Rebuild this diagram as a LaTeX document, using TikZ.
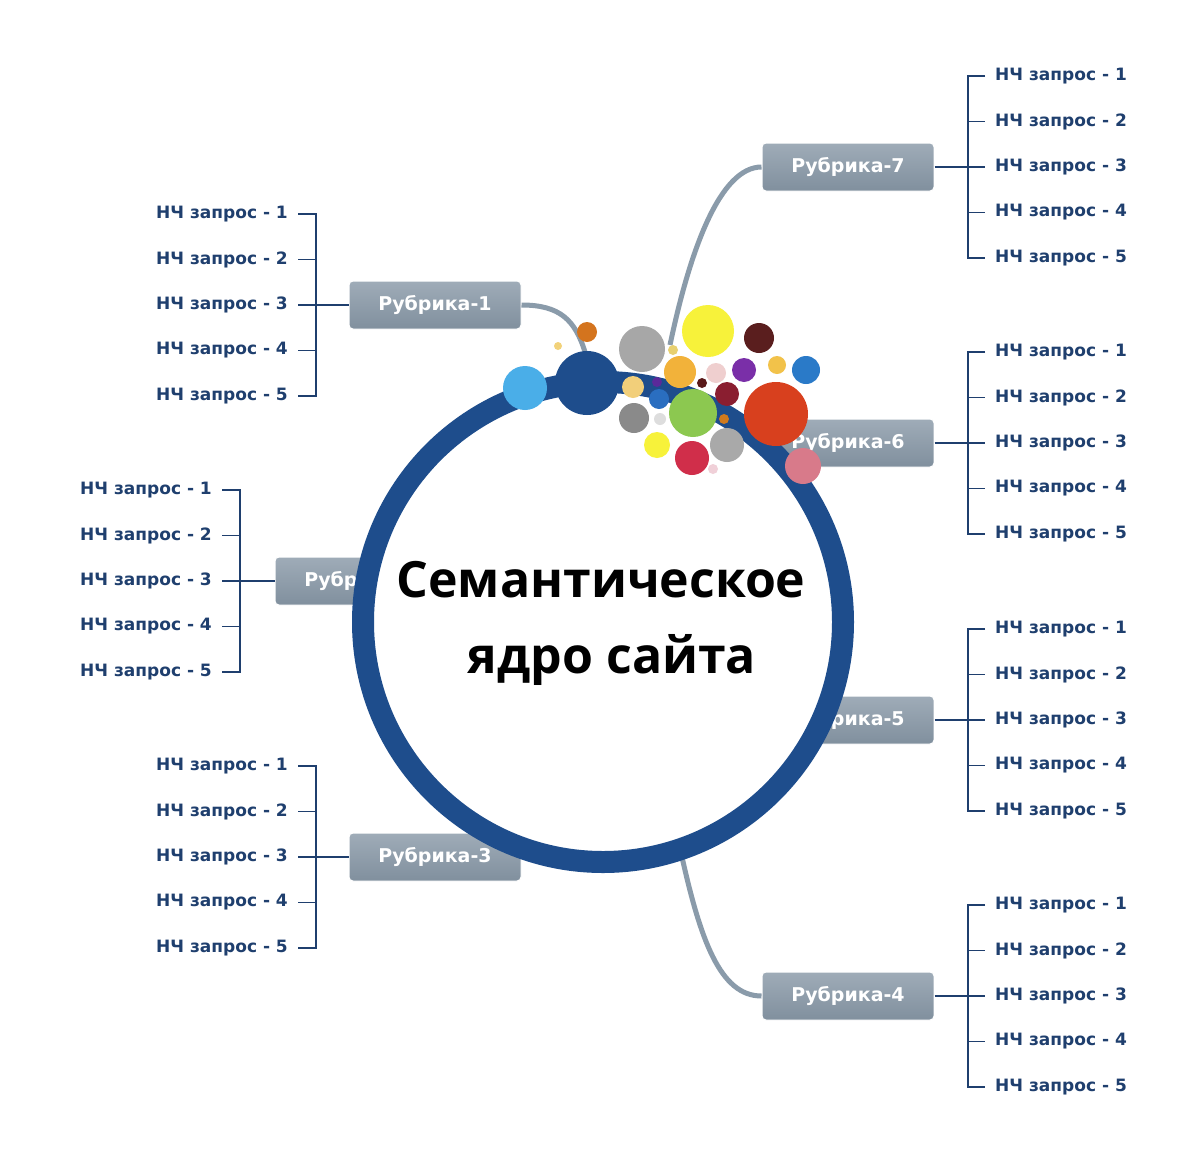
\documentclass[tikz,border=0pt]{standalone}
\usepackage{fontspec}
\setmainfont{Open Sans}
\newfontfamily\djvfont{DejaVu Sans}
\definecolor{leaf}{HTML}{1F3F6E}
\definecolor{ring}{HTML}{1E4D8C}
\definecolor{boxc}{HTML}{8797A6}
\definecolor{conn}{HTML}{8A9BAA}
\begin{document}
\begin{tikzpicture}[x=1pt,y=-1pt,
  rub/.style={rounded corners=4pt,draw=white,line width=1pt,top color=boxc!80!white,bottom color=boxc!95!black,text=white,font=\djvfont\bfseries\fontsize{19}{19}\selectfont,minimum width=172pt,minimum height=48pt,inner sep=0pt},
  lf/.style={text=leaf,font=\djvfont\bfseries\fontsize{17}{17}\selectfont,inner sep=0pt},
  br/.style={draw=leaf,line width=1.8pt},
  cn/.style={draw=conn,line width=5pt}]
\useasboundingbox (0,0) rectangle (1200,1154);
\fill[white] (0,0) rectangle (1200,1154);
\coordinate (c1) at (585,352);
\coordinate (c7) at (670,345);
\coordinate (c4) at (680,848);
\coordinate (c3) at (548,852);
\node[rub] (r1) at (435,305) {Рубрика-1};
\node[rub] (r7) at (848,167) {Рубрика-7};
\node[rub] (r6) at (848,443) {Рубрика-6};
\node[rub] (r5) at (848,720) {Рубрика-5};
\node[rub] (r4) at (848,996) {Рубрика-4};
\node[rub] (r3) at (435,857) {Рубрика-3};
\node[rub] (r2) at (361,581) {Рубрика-2};
\draw[cn] (r1.east) .. controls (560,305) and (575,320) .. (c1);
\draw[cn] (c7) .. controls (690,250) and (720,167) .. (r7.west);
\draw[cn] (c4) .. controls (700,940) and (720,996) .. (r4.west);
\draw[cn] (r3.east) -- (c3);
\draw[ring,line width=22pt,fill=white] (603,622) circle (240);
\node[font=\bfseries\fontsize{50}{50}\selectfont] (t1) at (601,580) {Семантическое};
\node[font=\bfseries\fontsize{50}{50}\selectfont] (t2) at (612,660) {ядро сайта};
\foreach \r/\y in {r7/167,r6/443,r5/720,r4/996}{
  \draw[br] (\r.east) -- (968,\y);
  \draw[br] (985,\y-91) -- (968,\y-91) -- (968,\y+91) -- (985,\y+91);
  \foreach \k in {1,...,5}{
    \node[lf,anchor=west] (\r l\k) at (995,\y-91+45.5*\k-45.5) {НЧ запрос - \k};
    \draw[br] (968,\y-91+45.5*\k-45.5) -- +(17,0);
  }
}
\foreach \r/\y/\xl in {r1/305/316,r3/857/316,r2/581/240}{
  \draw[br] (\r.west) -- (\xl,\y);
  \draw[br] (\xl-18,\y-91) -- (\xl,\y-91) -- (\xl,\y+91) -- (\xl-18,\y+91);
  \foreach \k in {1,...,5}{
    \node[lf,anchor=east] (\r l\k) at (\xl-28,\y-91+45.5*\k-45.5) {НЧ запрос - \k};
    \draw[br] (\xl,\y-91+45.5*\k-45.5) -- +(-18,0);
  }
}
\foreach \x/\y/\rr/\c in {
 525/388/22/4AAEE8, 587/332/10/D4741E, 558/346/4/F2D27A, 587/383/32/1E4D8C,
 642/349/23/A7A7A7, 708/331/26/F7F23A, 759/338/15/5A1E1E, 680/372/16/F2B23A,
 673/350/5/E8D070, 716/373/10/EFCFCF, 744/370/12/7A2FA8, 777/365/9/F2C24A,
 806/370/14/2A7AC8, 633/387/11/F2CF7A, 657/382/5/5A2A9A, 702/383/5/5A1A1A,
 659/399/10/2A6EC0, 693/413/24/8CC850, 727/394/12/8A1E30, 776/414/32/D8401E,
 634/418/15/8A8A8A, 660/419/6/DDDDDD, 724/419/5/D07A1E, 657/445/13/F7F23A,
 692/458/17/D02E4A, 727/445/17/A9A9A9, 713/469/5/F0D0D8, 803/466/18/D87A8A}{
  \definecolor{bc}{HTML}{\c}
  \fill[bc] (\x,\y) circle (\rr);
}
\end{tikzpicture}
\end{document}
